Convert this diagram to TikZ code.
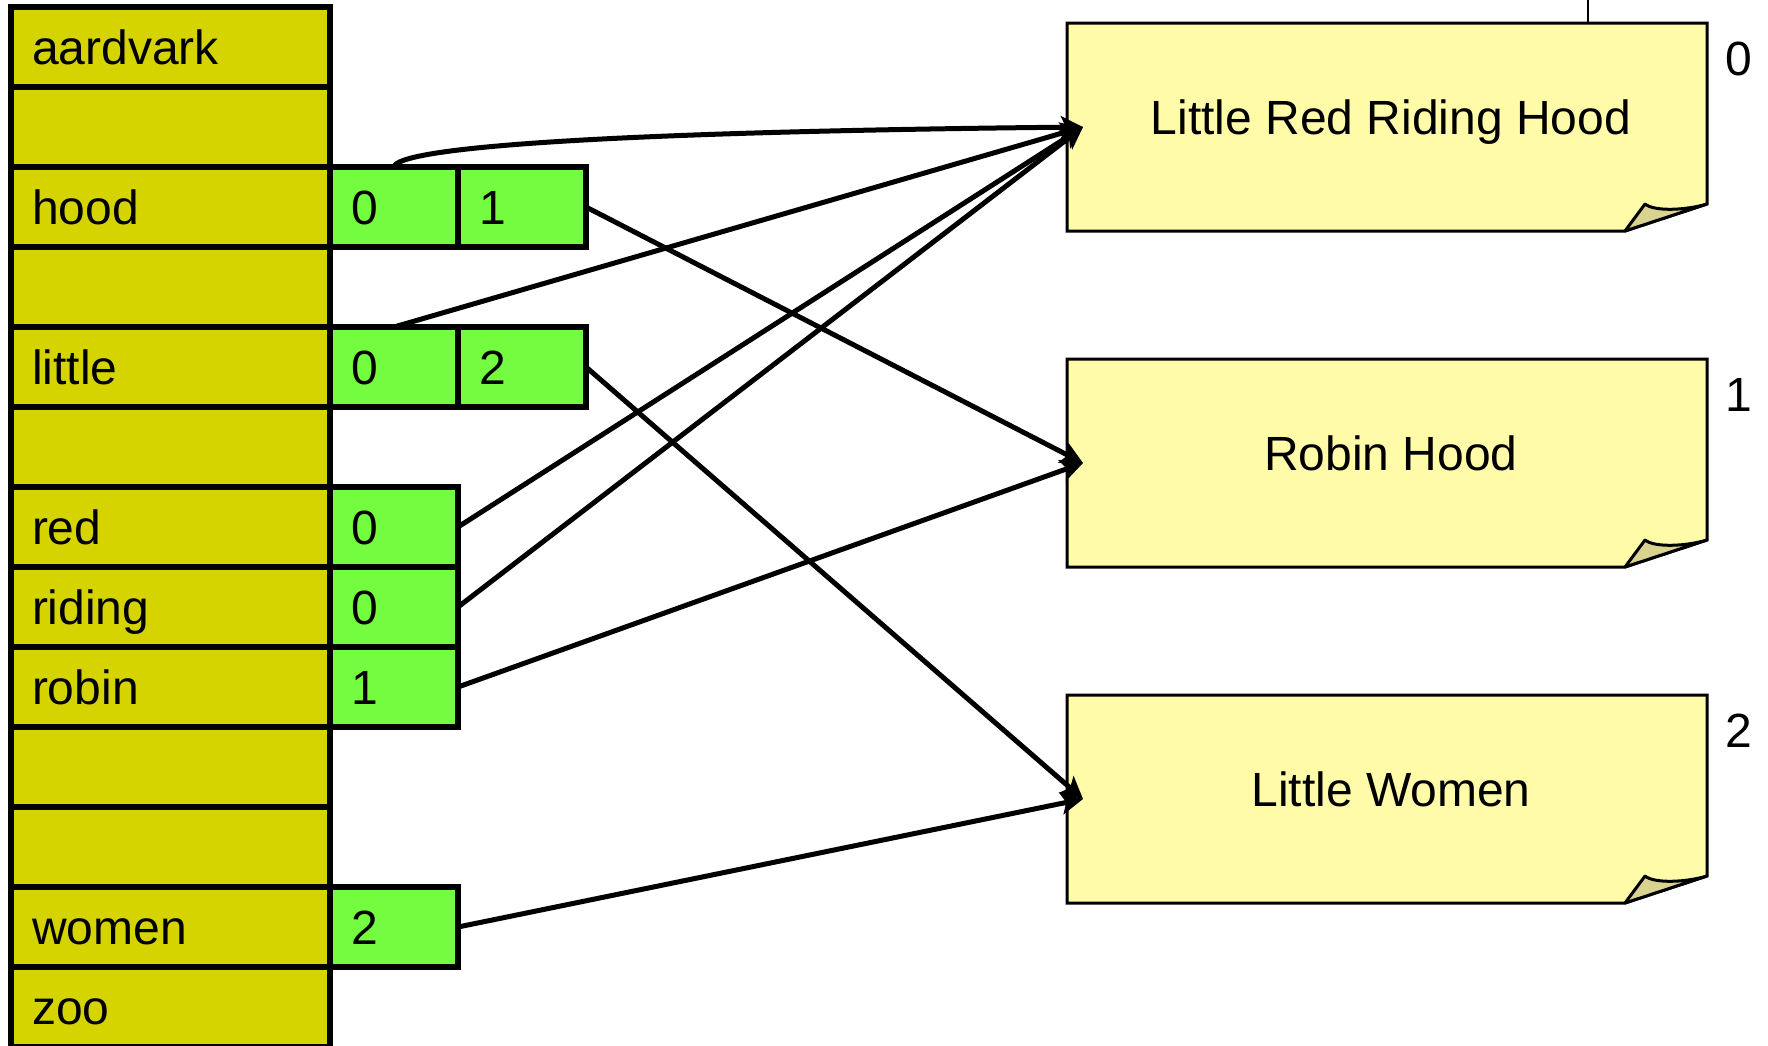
\documentclass[tikz,border=0pt]{standalone}
\usepackage{fontspec}
\setmainfont{Liberation Sans}
\usetikzlibrary{calc,arrows.meta}

\definecolor{tablefill}{RGB}{214,212,0}
\definecolor{cellfill}{RGB}{116,252,64}
\definecolor{docfill}{RGB}{255,251,168}
\definecolor{foldfill}{RGB}{216,211,142}

\begin{document}
\begin{tikzpicture}[x=1pt,y=-1pt,
  every node/.style={font=\fontsize{48}{56}\selectfont},
  word/.style={draw, line width=6pt, fill=tablefill, anchor=north west, outer sep=0pt,
    minimum height=80pt, inner xsep=21pt, inner ysep=0pt,
    text width=277pt, align=left, text height=34pt, text depth=0pt},
  posting/.style={draw, line width=6pt, fill=cellfill, anchor=north west, outer sep=0pt,
    minimum height=80pt, inner xsep=21pt, inner ysep=0pt,
    text width=86pt, align=left, text height=34pt, text depth=0pt},
  docframe/.style={minimum width=640pt, minimum height=208pt, inner sep=0pt, outer sep=0pt},
  docpaper/.style={draw, line width=3pt, fill=docfill, line join=miter},
  docfold/.style={draw, line width=3pt, fill=foldfill, line join=round},
  doctitle/.style={inner sep=0pt, text height=34pt, text depth=20pt},
  index/.style={inner sep=0pt},
  link/.style={line width=5pt, -{Stealth[length=22pt,width=22pt,inset=5pt]}},
]
\useasboundingbox (0,0) rectangle (1768,1045);

% the dictionary: one row per hash slot
\foreach \w [count=\i from 0] in {aardvark,{},hood,{},little,{},red,riding,robin,{},{},women,zoo}
  \node[word] (w\i) at (11,7+80*\i) {\w};

% posting lists attached to the occupied slots
\node[posting] (hood0)   at (w2.north east)    {0};
\node[posting] (hood1)   at (hood0.north east) {1};
\node[posting] (little0) at (w4.north east)    {0};
\node[posting] (little1) at (little0.north east) {2};
\node[posting] (red0)    at (w6.north east)    {0};
\node[posting] (riding0) at (w7.north east)    {0};
\node[posting] (robin0)  at (w8.north east)    {1};
\node[posting] (women0)  at (w11.north east)   {2};

% the documents, drawn as curled notes
\foreach \t [count=\i from 0] in {Little Red Riding Hood,Robin Hood,Little Women} {
  \node[docframe] (doc\i) at (1387,127+336*\i) {};
  \path[docpaper] (doc\i.north west) -- (doc\i.north east)
    -- ($(doc\i.south east)+(0,-27)$) -- ($(doc\i.south east)+(-82,0)$)
    -- (doc\i.south west) -- cycle;
  \path[docfold] ($(doc\i.south east)+(-82,0)$) -- ($(doc\i.south east)+(-62,-27)$)
    .. controls ($(doc\i.south east)+(-52,-19)$) and ($(doc\i.south east)+(-20,-21)$)
    .. ($(doc\i.south east)+(0,-27)$) -- cycle;
  \node[doctitle] (title\i) at ($(doc\i.center)+(4,0)$) {\t};
  \node[index] (idx\i) at ($(doc\i.north east)+(32,36)$) {\i};
  % where incoming links land, just inside the left edge
  \coordinate (in\i) at ($(doc\i.west)+(16,0)$);
}

% feed line entering the first document from above
\coordinate (feed) at (1588,0);
\draw[line width=2pt] (feed) -- (feed |- doc0.north);

% postings point to their documents
\draw[link] (hood0.north) .. controls +(3,-19) and ($(in0)+(-490,5)$) .. (in0);
\draw[link] (hood1.east) -- (in1);
\draw[link] (little0.north) -- (in0);
\draw[link] (little1.east) -- (in2);
\draw[link] (red0.east) -- (in0);
\draw[link] (riding0.east) -- (in0);
\draw[link] (robin0.east) -- (in1);
\draw[link] (women0.east) -- (in2);
\end{tikzpicture}
\end{document}
